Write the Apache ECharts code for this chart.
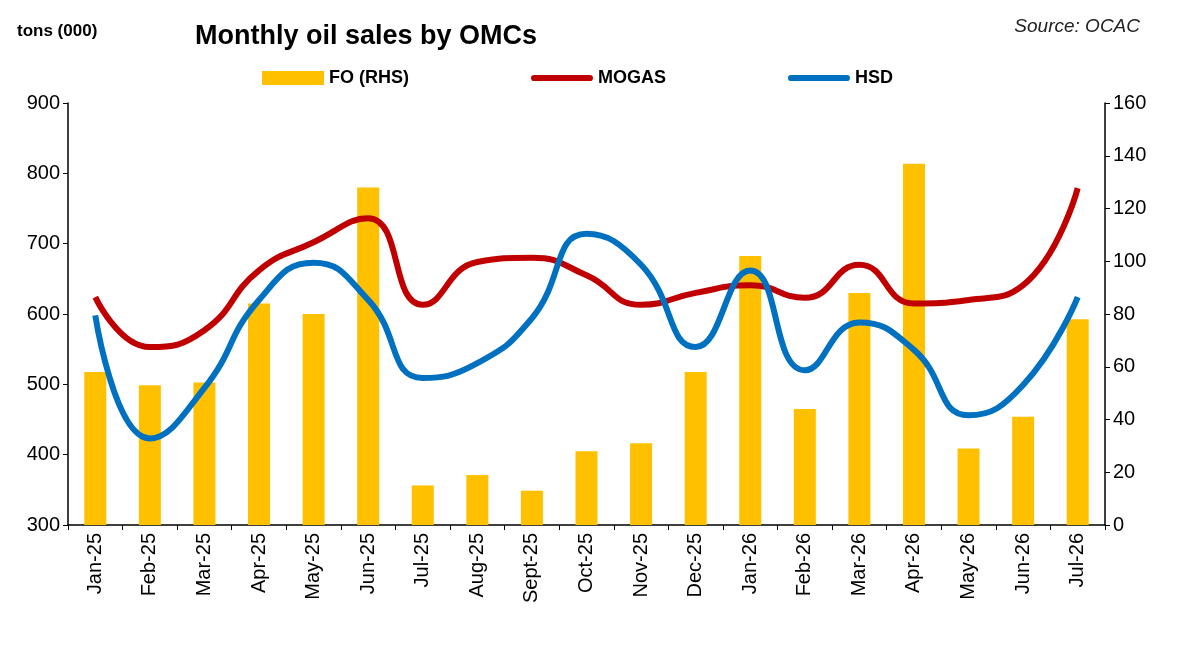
<!DOCTYPE html>
<html>
<head>
<meta charset="utf-8">
<script src="https://cdn.jsdelivr.net/npm/echarts@6/dist/echarts.min.js"></script>
<style>html,body{margin:0;padding:0;background:#fff}#chart{width:1200px;height:651px}</style>
</head>
<body>
<div id="chart"></div>
<script>
var months = ['Jan-25','Feb-25','Mar-25','Apr-25','May-25','Jun-25','Jul-25','Aug-25','Sept-25','Oct-25','Nov-25','Dec-25','Jan-26','Feb-26','Mar-26','Apr-26','May-26','Jun-26','Jul-26'];
var foValues = [58,53,54,84,80,128,15,19,13,28,31,58,102,44,88,137,29,41,78];
var mogasValues = [624,553,577,662,702,736,613,674,680,655,613,630,641,623,670,615,620,641,779];
var hsdValues = [598,423,495,620,673,620,509,530,594,714,670,553,662,520,588,549,456,499,624];

var chart = echarts.init(document.getElementById('chart'));
var axisFont = {color:'#000', fontSize:20, fontFamily:'Liberation Sans'};
var lineIcon = 'path://M3,0h54a3,3 0 0 1 0,6h-54a3,3 0 0 1 0,-6z';
chart.setOption({
	animation: false,
	title: [
		{text:'Monthly oil sales by OMCs', left:190, top:18, textStyle:{fontSize:27, fontWeight:'bold', color:'#000', fontFamily:'Liberation Sans'}},
		{text:'tons (000)', left:12, top:18, textStyle:{fontSize:17, fontWeight:'bold', color:'#000', fontFamily:'Liberation Sans'}},
		{text:'Source: OCAC', right:55, top:12, textStyle:{fontSize:19, fontStyle:'italic', fontWeight:'normal', color:'#222', fontFamily:'Liberation Sans'}}
	],
	legend: {
		top:64, left:257, itemGap:122, itemWidth:62, itemHeight:14,
		textStyle:{fontSize:18, fontWeight:'bold', color:'#000', fontFamily:'Liberation Sans'},
		data:[{name:'FO (RHS)', icon:'rect'},
			{name:'MOGAS', icon:lineIcon, itemHeight:7},
			{name:'HSD', icon:lineIcon, itemHeight:7}]
	},
	grid: {left:68, right:95, top:103, bottom:126},
	xAxis: {
		type:'category', data:months,
		axisLine:{lineStyle:{color:'#000', width:1.5}},
		axisTick:{show:true, lineStyle:{color:'#000'}},
		axisLabel:Object.assign({rotate:90, interval:0}, axisFont)
	},
	yAxis: [
		{type:'value', min:300, max:900, interval:100, splitLine:{show:false},
		 axisLine:{show:true, lineStyle:{color:'#000', width:1.5}}, axisTick:{show:true},
		 axisLabel:axisFont},
		{type:'value', min:0, max:160, interval:20, splitLine:{show:false},
		 axisLine:{show:true, lineStyle:{color:'#000', width:1.5}}, axisTick:{show:true},
		 axisLabel:axisFont}
	],
	series: [
		{name:'FO (RHS)', type:'bar', yAxisIndex:1, data:foValues, barWidth:22, itemStyle:{color:'#FFC000'}},
		{name:'MOGAS', type:'line', smooth:0.5, showSymbol:false, data:mogasValues, lineStyle:{color:'#C00000', width:6}, itemStyle:{color:'#C00000'}},
		{name:'HSD', type:'line', smooth:0.5, showSymbol:false, data:hsdValues, lineStyle:{color:'#0070C0', width:6}, itemStyle:{color:'#0070C0'}}
	]
});
</script>
</body>
</html>
